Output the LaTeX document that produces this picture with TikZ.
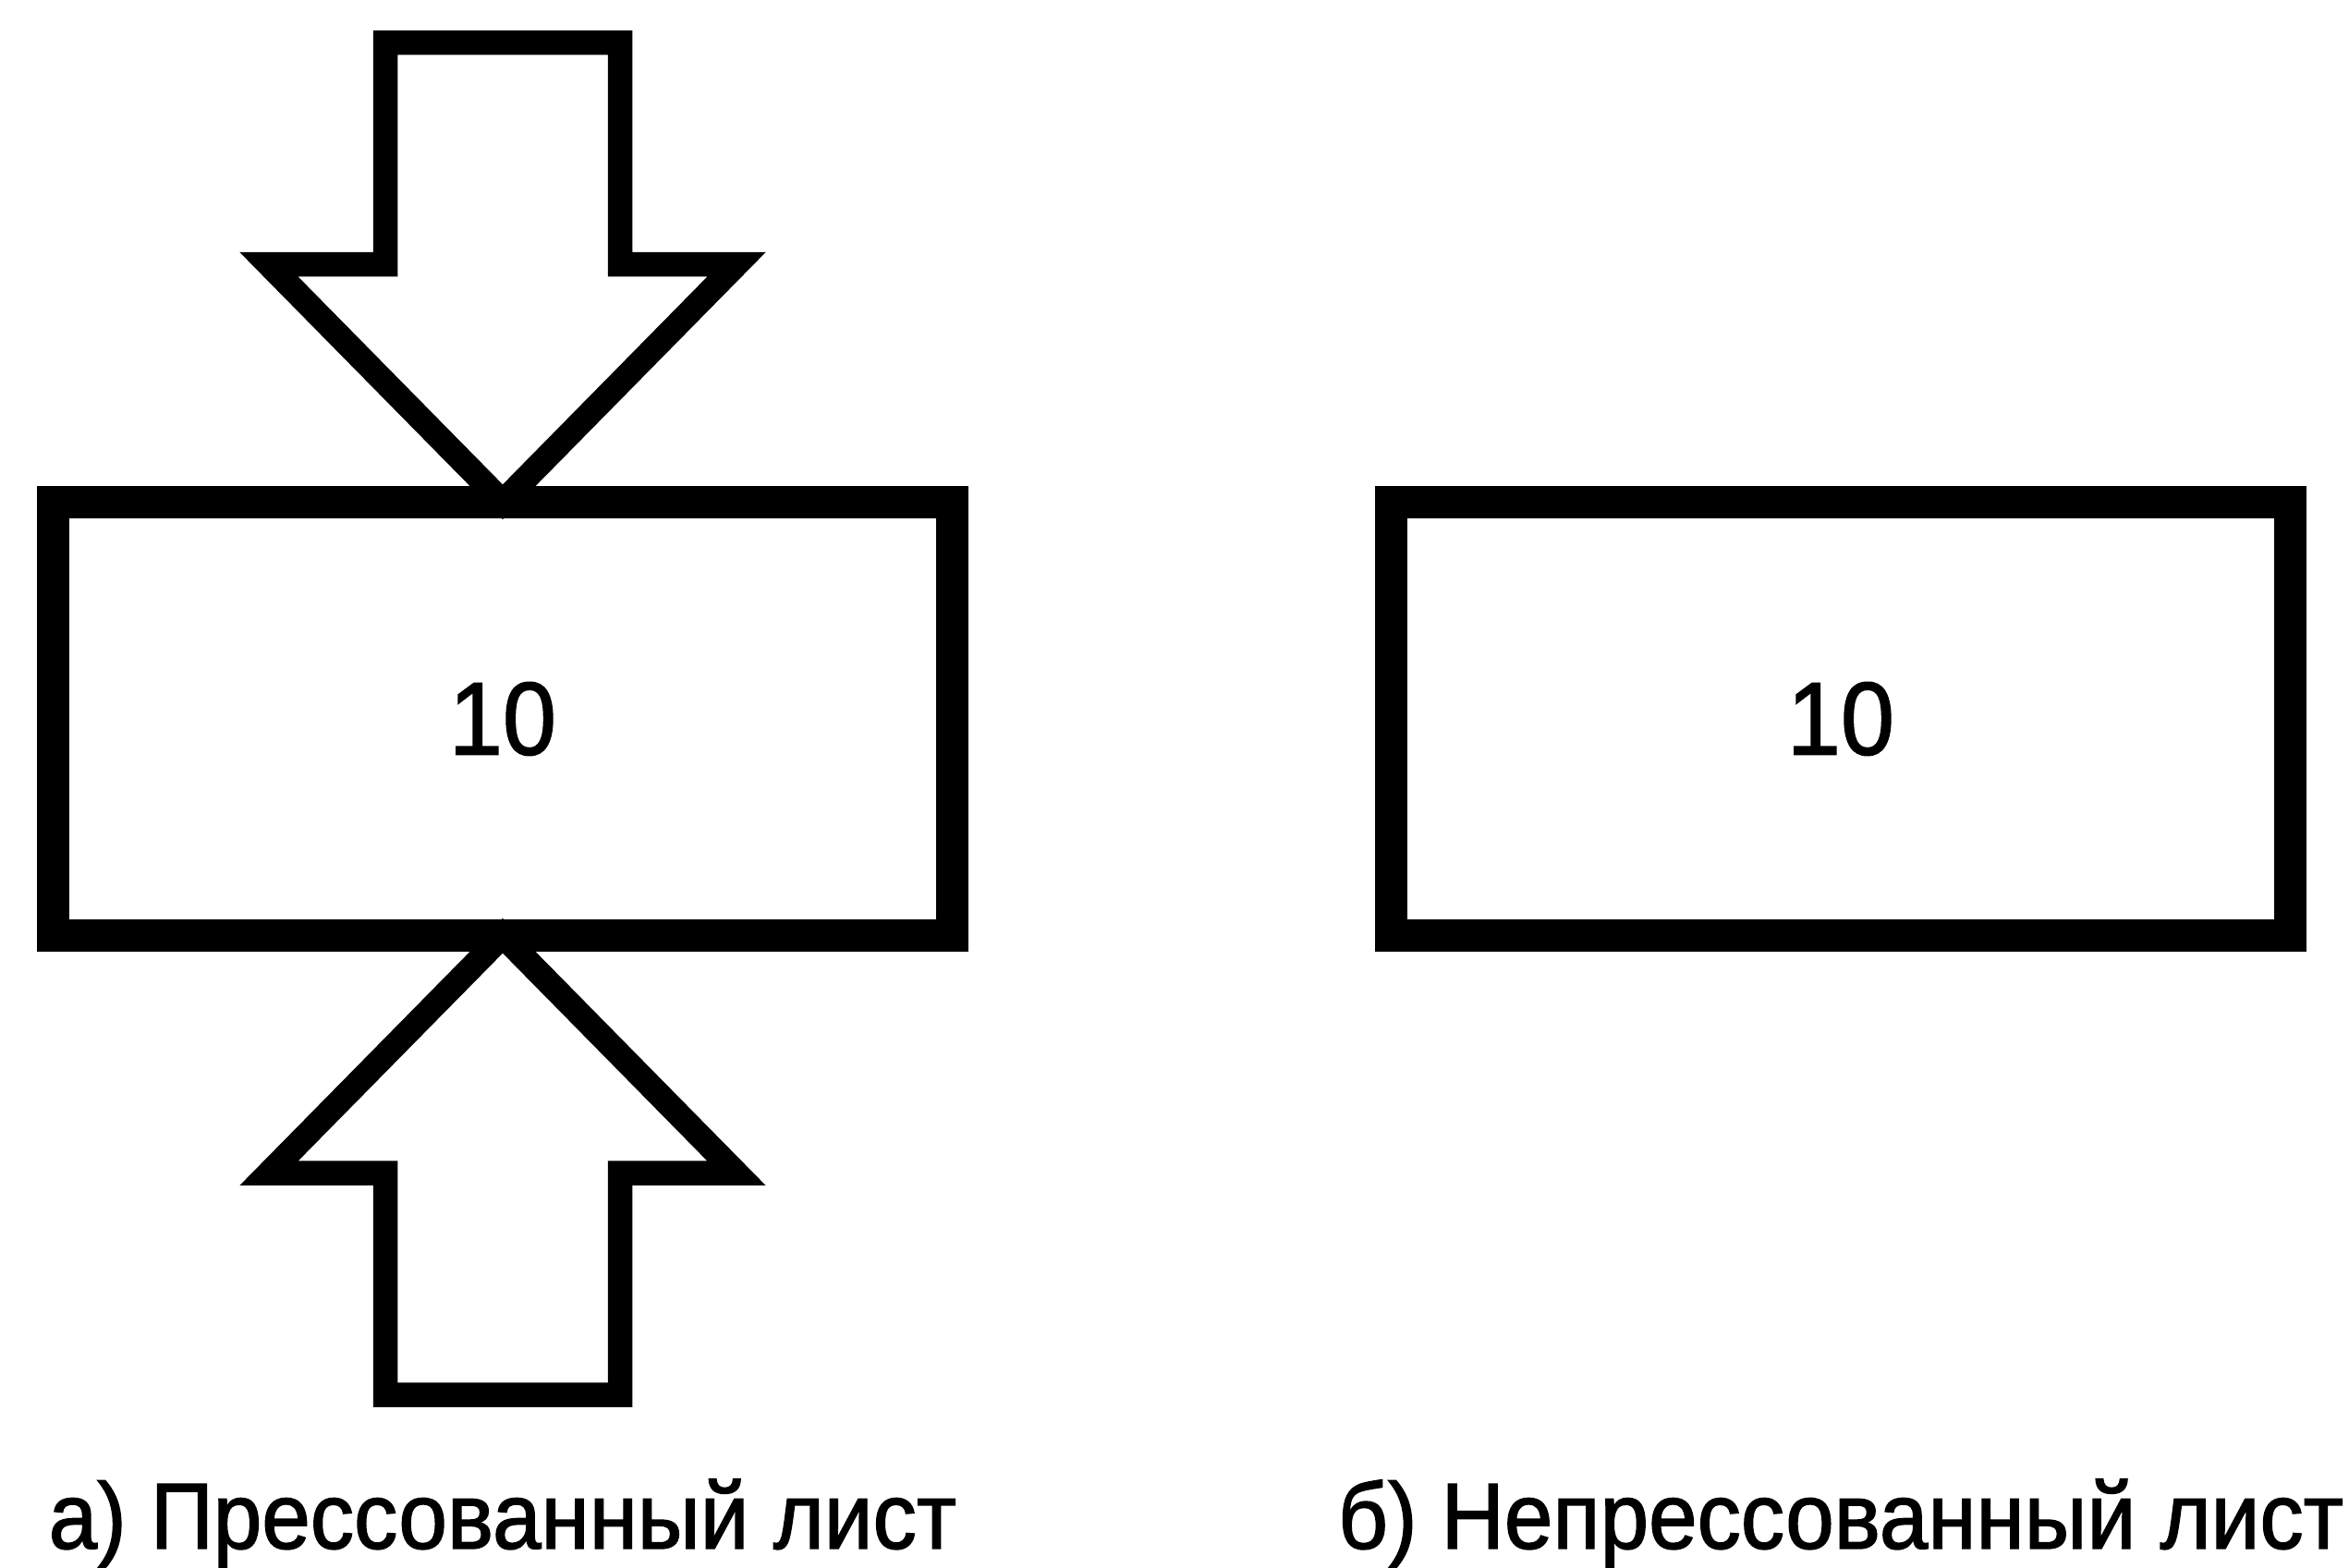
\documentclass[tikz,border=0pt]{standalone}
\usepackage{fontspec}
\setmainfont{Liberation Sans}
\newfontfamily\narrowsans[FakeStretch=0.93,FakeBold=1.4]{Liberation Sans}
\usetikzlibrary{positioning,calc}

\begin{document}
\begin{tikzpicture}[
    sheet/.style={draw, rectangle, line width=0.35cm, minimum width=9.725cm, minimum height=4.695cm, inner sep=0pt, outer sep=0pt, font=\narrowsans\fontsize{31.9}{38}\selectfont},
    press/.style={draw, line width=0.265cm, line join=miter},
    caption/.style={anchor=base, inner sep=0pt, font=\narrowsans\fontsize{28.9}{35}\selectfont}
]
    \useasboundingbox (0,0) rectangle (25.42,16.97);
    \node [sheet] (pressed) at (5.44,9.19) {10};
    \node [sheet] (loose) at (19.92,9.19) {10};

    % Press arrows
    \foreach \s/\side in {1/north, -1/south} {
        \draw [press] (pressed.\side) -- ++(-2.53,{2.57*\s}) -- ++(1.26,0) -- ++(0,{2.4*\s})
            -- ++(2.54,0) -- ++(0,{-2.4*\s}) -- ++(1.26,0) -- cycle;
    }

    % Captions
    \node [caption] (capA) at (pressed.south |- 0,0.21) {а) Прессованный лист};
    \node [caption] (capB) at (loose.south |- 0,0.21) {б) Непрессованный лист};
\end{tikzpicture}
\end{document}
